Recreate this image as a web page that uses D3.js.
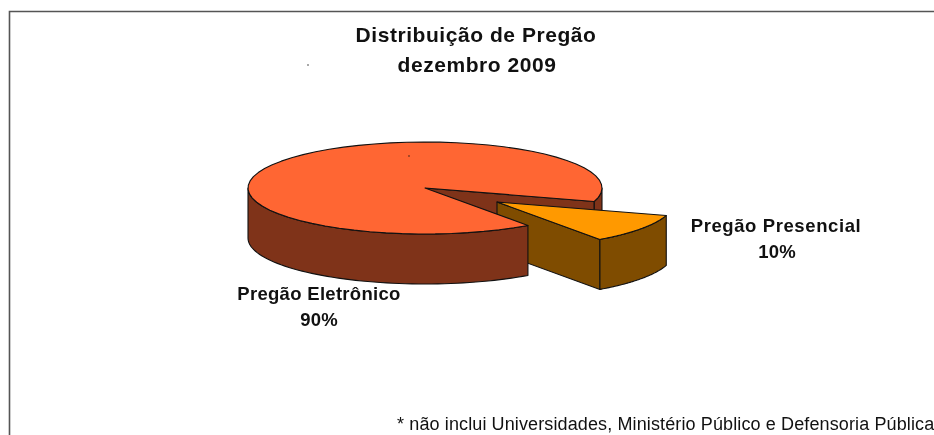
<!DOCTYPE html>
<html><head><meta charset="utf-8">
<script src="https://cdn.jsdelivr.net/npm/d3@7/dist/d3.min.js"></script>
<style>
html,body{margin:0;padding:0;background:#fff;overflow:hidden}
svg{display:block;filter:blur(.4px)}
text{font-family:"Liberation Sans",Arial,sans-serif;fill:#111}
</style></head><body>
<svg id="c" width="934" height="435"></svg>
<script>
const categories = ["Pregão Presencial", "Pregão Eletrônico"];
const shares = [10.4, 89.6];
const shareLabels = ["10%", "90%"];
const titleLines = ["Distribuição de Pregão", "dezembro 2009"];
const footnote = "* não inclui Universidades, Ministério Público e Defensoria Pública";

const svg = d3.select("#c");
const C = {top:"#FF6633", wall:"#7F3319", top2:"#FF9900", wall2:"#7F4C00", line:"#111"};

// frame
svg.append("path").attr("d","M9.5 435V11.5H934").attr("fill","none").attr("stroke","#555").attr("stroke-width",1.6);
// specks
svg.append("circle").attr("cx",308).attr("cy",65).attr("r",.7).attr("fill","#111");

// pie layout: angle 0 = 12 o'clock, clockwise
const rad = d => d*Math.PI/180;
const start = rad(90+17);
const slices = d3.pie().sort(null).startAngle(start).endAngle(start+2*Math.PI)(shares);
const small = slices[0], big = slices[1];
const depth = 50;

function projector(cx, cy){
  const x = d3.scaleLinear().domain([-1,1]).range([cx-177,cx+177]);
  const y = d3.scaleLinear().domain([-1,1]).range([cy-46,cy+46]);
  const pt = (a,r=1,dz=0)=>[x(Math.sin(a)*r), y(-Math.cos(a)*r)+dz];
  const arc = (a0,a1,dz=0)=>d3.range(0,61).map(i=>pt(a0+(a1-a0)*i/60,1,dz));
  return {pt,arc};
}
const line = d3.line();
const closed = pts => line(pts)+"Z";
function face(pts,fill){
  svg.append("path").attr("d",closed(pts)).attr("fill",fill).attr("stroke",C.line).attr("stroke-width",1.1).attr("stroke-linejoin","round");
}
function rim(p,a0,a1,fill){ face([...p.arc(a0,a1),...p.arc(a1,a0,depth)],fill); }

const main = projector(425,188);
const out  = projector(497,202);   // exploded slice centre

// main pie: parts behind the exploded slice
const a0 = big.startAngle, a1 = big.endAngle;
face([main.pt(a1,0),main.pt(a1),main.pt(a1,1,depth),main.pt(a1,0,depth)],C.wall);
rim(main,rad(90),a1-2*Math.PI,C.wall);

// exploded slice
const s0 = small.startAngle, s1 = small.endAngle;
face([out.pt(s1,0),out.pt(s1),out.pt(s1,1,depth),out.pt(s1,0,depth)],C.wall2);
rim(out,s0,s1,C.wall2);
face([out.pt(0,0),...out.arc(s0,s1)],C.top2);

// main pie: front wall and top
rim(main,a0,rad(270),C.wall);
face([main.pt(0,0),...main.arc(a0,a1)],C.top);
svg.append("circle").attr("cx",409).attr("cy",156).attr("r",.7).attr("fill","#111");

// text
const bold = (t,x,y,size,ls) => svg.append("text").attr("x",x).attr("y",y).attr("text-anchor","middle")
    .attr("font-weight","bold").attr("font-size",size).attr("letter-spacing",ls).text(t);
bold(titleLines[0],476,42,21,.55);
bold(titleLines[1],477,72,21,.55);
bold(categories[0],776,232,18.5,.6);
bold(shareLabels[0],777,258,18.5,.2);
bold(categories[1],319,300,18.5,.3);
bold(shareLabels[1],319,326,18.5,.2);
svg.append("text").attr("x",397).attr("y",430).attr("font-size",18).attr("letter-spacing",.12).text(footnote);
</script></body></html>
